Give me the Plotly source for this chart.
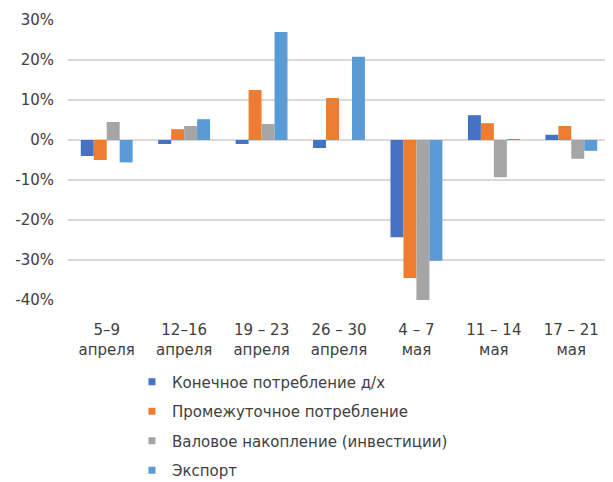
import plotly.graph_objects as go

categories = ["5–9<br>апреля", "12–16<br>апреля", "19 – 23<br>апреля", "26 – 30<br>апреля",
              "4 – 7<br>мая", "11 – 14<br>мая", "17 – 21<br>мая"]
series_names = ["Конечное потребление д/х", "Промежуточное потребление",
                "Валовое накопление (инвестиции)", "Экспорт"]
final_consumption = [-4.0, -1.0, -1.0, -2.0, -24.3, 6.2, 1.3]
intermediate_consumption = [-5.0, 2.7, 12.5, 10.5, -34.5, 4.2, 3.5]
gross_accumulation = [4.5, 3.5, 4.0, 0.0, -40.0, -9.3, -4.7]
export = [-5.6, 5.2, 27.0, 20.8, -30.2, 0.2, -2.7]
colors = ["#4472C4", "#ED7D31", "#A5A5A5", "#5B9BD5"]
y_ticks = [30, 20, 10, 0, -10, -20, -30, -40]

FONT = "DejaVu Sans, Verdana, sans-serif"
TXT = "#404040"

fig = go.Figure()
for i, (name, vals) in enumerate(zip(series_names,
        [final_consumption, intermediate_consumption, gross_accumulation, export])):
    fig.add_trace(go.Bar(x=categories, y=vals, name=name, marker_color=colors[i],
                         marker_line_width=0, showlegend=False))
    # legend entry with small square marker
    fig.add_trace(go.Scatter(x=[None], y=[None], mode="markers", name=name,
                             marker=dict(symbol="square", size=7, color=colors[i]),
                             legendgroup=str(i), showlegend=True))

fig.update_layout(
    width=605, height=474,
    margin=dict(l=60, r=3, t=12, b=182, autoexpand=False),
    plot_bgcolor="white", paper_bgcolor="white",
    barmode="group", bargap=0.33, bargroupgap=0,
    font=dict(family=FONT, size=15, color=TXT),
    showlegend=True,
    legend=dict(x=0.118, y=-0.234, xanchor="left", yanchor="top",
                font=dict(family=FONT, size=15, color=TXT), tracegroupgap=7,
                itemwidth=30, bgcolor="rgba(0,0,0,0)"),
    xaxis=dict(showgrid=False, showline=False, ticks="", ticklabelstandoff=19,
               tickfont=dict(family=FONT, size=15, color=TXT)),
    yaxis=dict(range=[-40, 30], tickvals=y_ticks,
               ticktext=[f"{v}%" for v in y_ticks],
               showgrid=True, gridcolor="#D9D9D9", gridwidth=1.5,
               zeroline=True, zerolinecolor="#D9D9D9", zerolinewidth=1.5,
               ticks="outside", ticklen=10, tickcolor="rgba(0,0,0,0)",
               tickfont=dict(family=FONT, size=15, color=TXT)),
)
fig.write_html("out.html")
